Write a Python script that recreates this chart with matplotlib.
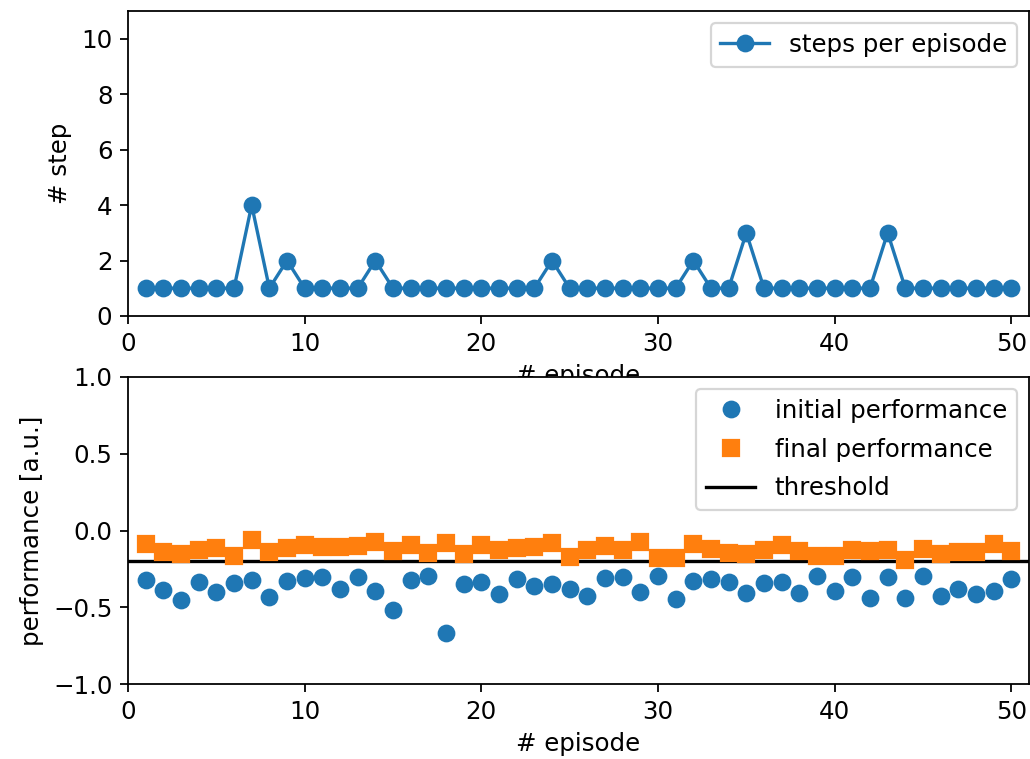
import numpy as np
import matplotlib
matplotlib.use('Agg')
import matplotlib.pyplot as plt

plt.rcParams['font.size'] = 11
plt.rcParams['legend.labelspacing'] = 0.6

# dados
episodios = np.arange(1, 51)
passos = [1, 1, 1, 1, 1, 1, 4, 1, 2, 1,
          1, 1, 1, 2, 1, 1, 1, 1, 1, 1,
          1, 1, 1, 2, 1, 1, 1, 1, 1, 1,
          1, 2, 1, 1, 3, 1, 1, 1, 1, 1,
          1, 1, 3, 1, 1, 1, 1, 1, 1, 1]
desempenho_inicial = [-0.325, -0.388, -0.452, -0.336, -0.401, -0.341, -0.321, -0.434, -0.330, -0.312,
                      -0.304, -0.380, -0.302, -0.393, -0.517, -0.323, -0.297, -0.666, -0.349, -0.334,
                      -0.412, -0.319, -0.360, -0.351, -0.382, -0.425, -0.308, -0.304, -0.401, -0.299,
                      -0.447, -0.328, -0.317, -0.338, -0.408, -0.341, -0.336, -0.408, -0.299, -0.397,
                      -0.304, -0.438, -0.306, -0.442, -0.299, -0.425, -0.382, -0.412, -0.397, -0.319]
desempenho_final = [-0.091, -0.139, -0.150, -0.128, -0.113, -0.163, -0.065, -0.141, -0.117, -0.096,
                    -0.107, -0.109, -0.102, -0.074, -0.133, -0.096, -0.146, -0.081, -0.150, -0.096,
                    -0.128, -0.113, -0.109, -0.083, -0.172, -0.124, -0.098, -0.124, -0.074, -0.176,
                    -0.178, -0.091, -0.122, -0.146, -0.152, -0.126, -0.096, -0.135, -0.167, -0.165,
                    -0.124, -0.135, -0.124, -0.195, -0.122, -0.150, -0.139, -0.139, -0.091, -0.133]
limiar = -0.2

fig = plt.figure(figsize=(1030 / 160, 759 / 160), dpi=160)

# grafico de cima: passos por episodio
ax1 = fig.add_axes([0.1243, 0.5837, 0.8747, 0.4018])
ax1.plot(episodios, passos, 'o-', color='tab:blue', markersize=7, label='steps per episode')
ax1.set_xlim(0, 51)
ax1.set_ylim(0, 11)
ax1.set_yticks([0, 2, 4, 6, 8, 10])
ax1.set_xlabel('# episode')
ax1.set_ylabel('# step')
ax1.legend(loc='upper right')

# grafico de baixo: desempenho
ax2 = fig.add_axes([0.1243, 0.0988, 0.8747, 0.4045])
ax2.axhline(limiar, color='black', lw=1.5, zorder=1.5, label='threshold')
ax2.plot(episodios, desempenho_inicial, 'o', color='tab:blue', markersize=7, label='initial performance')
ax2.plot(episodios, desempenho_final, 's', color='tab:orange', markersize=7, label='final performance')
ax2.set_xlim(0, 51)
ax2.set_ylim(-1, 1)
ax2.set_yticks([-1.0, -0.5, 0.0, 0.5, 1.0])
ax2.set_xlabel('# episode')
ax2.set_ylabel('performance [a.u.]')
h, l = ax2.get_legend_handles_labels()
ax2.legend([h[1], h[2], h[0]], [l[1], l[2], l[0]], loc='upper right')

fig.savefig('out.png', dpi=160)
